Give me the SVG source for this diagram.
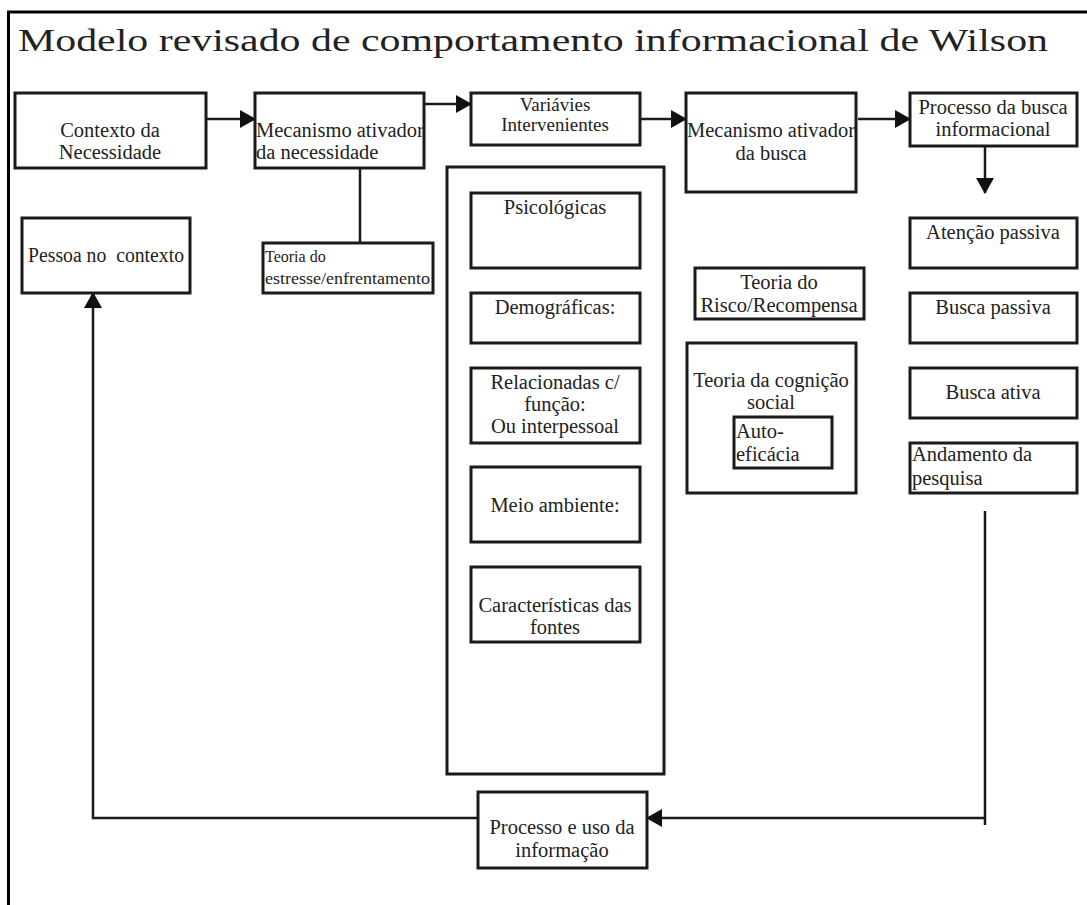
<svg xmlns="http://www.w3.org/2000/svg" width="1087" height="905" viewBox="0 0 1087 905">
<defs>
<style>
.bx{fill:#fff;stroke:#1a1a1a;stroke-width:3}
.ln{fill:none;stroke:#1a1a1a;stroke-width:2.5}
.t{font-family:"Liberation Serif","Times New Roman",serif;font-size:20.5px;fill:#222}
.c{text-anchor:middle}
.s{font-size:16px}
.m{font-size:19px}
.title{font-family:"Liberation Serif","Times New Roman",serif;font-size:32px;fill:#222}
</style>
<marker id="ahb" markerWidth="16" markerHeight="18" refX="15" refY="9" orient="auto" markerUnits="userSpaceOnUse">
<path d="M0,0 L16,9 L0,18 Z" fill="#111"/>
</marker>
</defs>
<rect x="0" y="0" width="1087" height="905" fill="#fff"/>
<g id="frame">
<path d="M8.5,905 L8.5,12 L1087,12" fill="none" stroke="#000" stroke-width="3"/>
<text class="title" x="18" y="51" textLength="1030" lengthAdjust="spacingAndGlyphs">Modelo revisado de comportamento informacional de Wilson</text>
</g>
<g id="connectors">
<line class="ln" x1="206" y1="119" x2="255" y2="119" marker-end="url(#ahb)"/>
<line class="ln" x1="424" y1="104" x2="471" y2="104" marker-end="url(#ahb)"/>
<line class="ln" x1="640" y1="119" x2="686" y2="119" marker-end="url(#ahb)"/>
<line class="ln" x1="858" y1="119" x2="910" y2="119" marker-end="url(#ahb)"/>
<line class="ln" x1="985" y1="146" x2="985" y2="193" marker-end="url(#ahb)"/>
<line class="ln" x1="360" y1="168" x2="360" y2="243"/>
<line class="ln" x1="985" y1="511" x2="985" y2="825"/>
<line class="ln" x1="985" y1="818" x2="647" y2="818" marker-end="url(#ahb)"/>
<polyline class="ln" points="478,818 93,818 93,293" marker-end="url(#ahb)"/>
</g>
<g id="contexto">
<rect class="bx" x="15" y="93" width="191" height="75"/>
<text class="t c" x="110" y="137">Contexto da</text>
<text class="t c" x="110" y="159">Necessidade</text>
</g>
<g id="mecanismo-necessidade">
<rect class="bx" x="255" y="93" width="169" height="75"/>
<text class="t" x="256" y="137">Mecanismo ativador</text>
<text class="t" x="256" y="159">da necessidade</text>
</g>
<g id="variaveis">
<rect class="bx" x="471" y="93" width="169" height="52"/>
<text class="t m c" x="555" y="111">Variávies</text>
<text class="t m c" x="555" y="131">Intervenientes</text>
</g>
<g id="mecanismo-busca">
<rect class="bx" x="686" y="93" width="170" height="99"/>
<text class="t c" x="771" y="137">Mecanismo ativador</text>
<text class="t c" x="771" y="160">da busca</text>
</g>
<g id="processo-busca">
<rect class="bx" x="910" y="93" width="167" height="53"/>
<text class="t c" x="993" y="114">Processo da busca</text>
<text class="t c" x="993" y="136">informacional</text>
</g>
<g id="pessoa">
<rect class="bx" x="22" y="218" width="168" height="75"/>
<text class="t" x="28" y="262" xml:space="preserve" textLength="156" lengthAdjust="spacingAndGlyphs">Pessoa no  contexto</text>
</g>
<g id="teoria-estresse">
<rect class="bx" x="263" y="243" width="170" height="50"/>
<text class="t s" x="265" y="262">Teoria do</text>
<text class="t s" x="265" y="284" textLength="165" lengthAdjust="spacingAndGlyphs">estresse/enfrentamento</text>
</g>
<g id="variaveis-grupo">
<rect class="bx" x="447" y="167" width="217" height="607"/>
</g>
<g id="psicologicas">
<rect class="bx" x="471" y="193" width="169" height="75"/>
<text class="t c" x="555" y="214">Psicológicas</text>
</g>
<g id="demograficas">
<rect class="bx" x="471" y="293" width="169" height="50"/>
<text class="t c" x="555" y="314">Demográficas:</text>
</g>
<g id="relacionadas">
<rect class="bx" x="471" y="368" width="169" height="75"/>
<text class="t c" x="555" y="389">Relacionadas c/</text>
<text class="t c" x="555" y="411">função:</text>
<text class="t c" x="555" y="433">Ou interpessoal</text>
</g>
<g id="meio-ambiente">
<rect class="bx" x="471" y="467" width="169" height="75"/>
<text class="t c" x="555" y="512">Meio ambiente:</text>
</g>
<g id="caracteristicas">
<rect class="bx" x="471" y="567" width="169" height="75"/>
<text class="t c" x="555" y="612">Características das</text>
<text class="t c" x="555" y="634">fontes</text>
</g>
<g id="teoria-risco">
<rect class="bx" x="695" y="268" width="169" height="51"/>
<text class="t c" x="779" y="289">Teoria do</text>
<text class="t c" x="779" y="312">Risco/Recompensa</text>
</g>
<g id="teoria-cognicao">
<rect class="bx" x="687" y="343" width="169" height="150"/>
<text class="t c" x="771" y="387">Teoria da cognição</text>
<text class="t c" x="771" y="409">social</text>
</g>
<g id="auto-eficacia">
<rect class="bx" x="734" y="417" width="98" height="51"/>
<text class="t" x="736" y="438">Auto-</text>
<text class="t" x="736" y="461">eficácia</text>
</g>
<g id="atencao-passiva">
<rect class="bx" x="910" y="218" width="167" height="50"/>
<text class="t c" x="993" y="239">Atenção passiva</text>
</g>
<g id="busca-passiva">
<rect class="bx" x="910" y="293" width="167" height="50"/>
<text class="t c" x="993" y="314">Busca passiva</text>
</g>
<g id="busca-ativa">
<rect class="bx" x="910" y="368" width="167" height="50"/>
<text class="t c" x="993" y="399">Busca ativa</text>
</g>
<g id="andamento">
<rect class="bx" x="910" y="443" width="167" height="50"/>
<text class="t" x="912" y="461">Andamento da</text>
<text class="t" x="912" y="485">pesquisa</text>
</g>
<g id="processo-uso">
<rect class="bx" x="478" y="792" width="169" height="76"/>
<text class="t c" x="562" y="834">Processo e uso da</text>
<text class="t c" x="562" y="857">informação</text>
</g>
</svg>
